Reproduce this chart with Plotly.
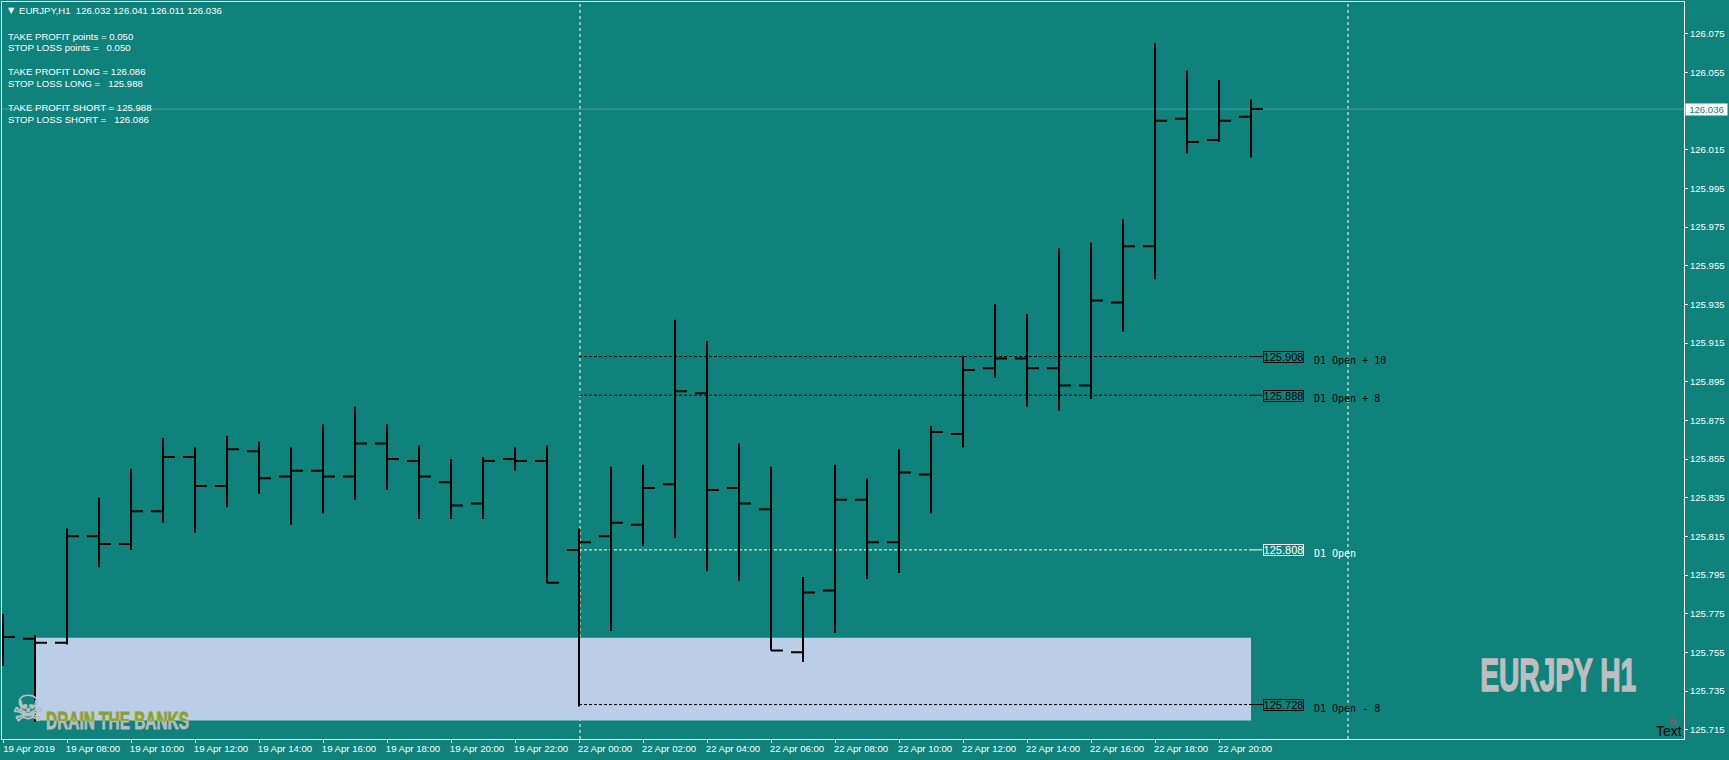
import plotly.graph_objects as go

# ---------- data ----------
bar_index = list(range(40))
opens = [125.765,125.762,125.760,125.815,125.811,125.828,125.856,125.841,125.859,125.846,
         125.849,125.846,125.863,125.854,125.843,125.832,125.855,125.854,125.808,125.815,
         125.821,125.842,125.889,125.840,125.829,125.755,125.787,125.834,125.812,125.847,
         125.868,125.902,125.907,125.902,125.893,125.936,125.965,126.031,126.020,126.032]
highs = [125.775,125.764,125.819,125.835,125.850,125.866,125.861,125.867,125.864,125.861,
         125.873,125.882,125.873,125.862,125.855,125.856,125.861,125.862,125.819,125.851,
         125.852,125.927,125.916,125.863,125.851,125.794,125.852,125.845,125.860,125.872,
         125.908,125.935,125.930,125.964,125.967,125.979,126.070,126.056,126.051,126.041]
lows = [125.748,125.719,125.759,125.799,125.808,125.822,125.817,125.830,125.837,125.821,
        125.827,125.834,125.839,125.824,125.824,125.824,125.849,125.791,125.727,125.766,
        125.810,125.814,125.797,125.792,125.756,125.750,125.765,125.793,125.796,125.827,
        125.861,125.897,125.882,125.880,125.886,125.921,125.948,126.013,126.019,126.011]
closes = [125.763,125.760,125.815,125.811,125.828,125.856,125.841,125.860,125.845,125.849,
          125.846,125.863,125.855,125.846,125.831,125.854,125.854,125.791,125.812,125.822,
          125.840,125.890,125.839,125.832,125.756,125.786,125.834,125.812,125.848,125.869,
          125.901,125.907,125.902,125.893,125.937,125.965,126.030,126.019,126.030,126.036]

x_tick_index = list(range(0, 40, 2))
x_tick_labels = ["19 Apr 2019","19 Apr 08:00","19 Apr 10:00","19 Apr 12:00","19 Apr 14:00",
                 "19 Apr 16:00","19 Apr 18:00","19 Apr 20:00","19 Apr 22:00","22 Apr 00:00",
                 "22 Apr 02:00","22 Apr 04:00","22 Apr 06:00","22 Apr 08:00","22 Apr 10:00",
                 "22 Apr 12:00","22 Apr 14:00","22 Apr 16:00","22 Apr 18:00","22 Apr 20:00"]
y_ticks = [125.715,125.735,125.755,125.775,125.795,125.815,125.835,125.855,125.875,125.895,
           125.915,125.935,125.955,125.975,125.995,126.015,126.055,126.075]

levels = [125.908, 125.888, 125.808, 125.728]
level_names = ["D1 Open + 10", "D1 Open + 8", "D1 Open", "D1 Open - 8"]
level_colors = ["#000000", "#000000", "#FFFFFF", "#000000"]
current_price = 126.036
zone_low, zone_high = 125.7197, 125.7626
session_index = [18, 42]
header = "EURJPY,H1\u00a0\u00a0126.032 126.041 126.011 126.036"
info_lines = [("TAKE PROFIT points = 0.050", 36), ("STOP LOSS points =\u00a0\u00a0\u00a00.050", 47.7),
              ("TAKE PROFIT LONG = 126.086", 71.7), ("STOP LOSS LONG =\u00a0\u00a0\u00a0125.988", 83.7),
              ("TAKE PROFIT SHORT = 125.988", 107.7), ("STOP LOSS SHORT =\u00a0\u00a0\u00a0126.086", 119.7)]
watermark = "EURJPY H1"
logo = "DRAIN THE BANKS"
skull = "\u2620"

# ---------- layout constants ----------
W, H = 1729, 760
L, R, T, B = 2, 1684, 2, 739
TEAL = "#0F827C"
ZONE = "#BBCEE7"
UI_FONT = "Liberation Sans"
UI_SIZE = 9.6
y_top = 126.075 + (33.7 - T) / 1933.3
y_bot = 126.075 - (B - 33.7) / 1933.3
x_left = (L - 3) / 32
x_right = (R - 3) / 32
BOX_X = 39.36


def xp(px):
    return (px - L) / (R - L)


def yp(py):
    return (B - py) / (B - T)


fig = go.Figure()

fig.add_trace(go.Ohlc(
    x=bar_index, open=opens, high=highs, low=lows, close=closes,
    increasing=dict(line=dict(color="#000000", width=2)),
    decreasing=dict(line=dict(color="#000000", width=2)),
    tickwidth=0.375, showlegend=False, hoverinfo="skip"))

shapes = []
for s in session_index:
    shapes.append(dict(type="line", layer="below", xref="x", yref="paper", x0=s + 0.03, x1=s + 0.03,
                       y0=0, y1=1, line=dict(color="#FFFFFF", width=1, dash="3px,3px")))
shapes.append(dict(type="rect", layer="below", xref="x", yref="y", x0=1, x1=39,
                   y0=zone_low, y1=zone_high, fillcolor=ZONE, line=dict(width=0)))
shapes.append(dict(type="line", layer="below", xref="paper", yref="y", x0=0, x1=1,
                   y0=current_price, y1=current_price, line=dict(color="#4A9F9B", width=1)))
annots = []
for lev, name, col in zip(levels, level_names, level_colors):
    shapes.append(dict(type="line", layer="below", xref="x", yref="y", x0=18, x1=39, y0=lev, y1=lev,
                       line=dict(color=col, width=1, dash="3px,2px")))
    shapes.append(dict(type="line", layer="below", xref="x", yref="y", x0=39, x1=BOX_X, y0=lev, y1=lev,
                       line=dict(color=col, width=1)))
    annots.append(dict(xref="x", yref="y", x=BOX_X, y=lev, yshift=-0.5, xanchor="left", yanchor="middle",
                       text=f"{lev:.3f}", showarrow=False, width=39, height=10, borderpad=0,
                       bordercolor=col, borderwidth=1, align="center",
                       font=dict(family=UI_FONT, size=11, color=col)))
    annots.append(dict(xref="x", yref="y", x=BOX_X, y=lev, xshift=50, yshift=-3.5, xanchor="left",
                       yanchor="middle", text=name, showarrow=False, borderpad=0,
                       font=dict(family="DejaVu Sans Mono", size=10, color=col)))

# top-left info
annots.append(dict(xref="paper", yref="paper", x=xp(6.5), y=yp(10.7), xanchor="left", yanchor="middle",
                   text="\u25bc", showarrow=False, borderpad=0, font=dict(family="DejaVu Sans", size=8, color="#FFFFFF")))
annots.append(dict(xref="paper", yref="paper", x=xp(18), y=yp(10.7), xanchor="left", yanchor="middle",
                   text=header, showarrow=False, borderpad=0, font=dict(family=UI_FONT, size=UI_SIZE, color="#FFFFFF")))
for txt, py in info_lines:
    annots.append(dict(xref="paper", yref="paper", x=xp(7), y=yp(py), xanchor="left", yanchor="middle",
                       text=txt, showarrow=False, borderpad=0,
                       font=dict(family=UI_FONT, size=UI_SIZE, color="#FFFFFF")))

# current price tag
annots.append(dict(xref="paper", yref="y", x=xp(1685), y=current_price, xanchor="left", yanchor="middle",
                   text=f"{current_price:.3f}", showarrow=False, width=41, height=11, borderpad=0,
                   bgcolor="#FFFFFF", align="center", font=dict(family=UI_FONT, size=UI_SIZE, color=TEAL)))

# watermark
annots.append(dict(xref="paper", yref="paper", x=xp(1558), y=yp(674.5), xanchor="center", yanchor="middle",
                   text=watermark, showarrow=False, borderpad=0,
                   font=dict(family="Liberation Sans", size=47, weight=700, color="#BEBEBE")))
annots.append(dict(xref="paper", yref="paper", x=xp(28), y=yp(708), xanchor="center", yanchor="middle",
                   text=skull, showarrow=False, borderpad=0,
                   font=dict(family="DejaVu Sans", size=36, color="#B9C0BE")))
annots.append(dict(xref="paper", yref="paper", x=xp(1683), y=yp(731), xanchor="right", yanchor="middle",
                   text="Text", showarrow=False, borderpad=0,
                   font=dict(family=UI_FONT, size=14, color="#000000")))
annots.append(dict(xref="paper", yref="paper", x=xp(1672.7), y=yp(721), xanchor="center", yanchor="middle",
                   text=skull, showarrow=False, borderpad=0,
                   font=dict(family="DejaVu Sans", size=10, color="#5A6A68")))

# "DRAIN THE BANKS": two-tone text clipped by two small overlay sub-plots
split = 720.7
dom_x = [xp(40), xp(195)]
for axis_no, dom_y, yv, col, dx in [(2, [0, yp(split)], 0.863, "#B9B9B9", 0),
                                    (3, [yp(split), yp(700)], -0.12, "#C6E000", -0.6),
                                    (4, [yp(split), yp(700)], -0.12, "#8C9B4C", 0)]:
    fig.add_trace(go.Scatter(x=[(117.5 - 40 + dx) / 155], y=[yv], mode="text", text=[logo],
                             textposition="middle center", showlegend=False, hoverinfo="skip", cliponaxis=True,
                             textfont=dict(family="Liberation Sans", size=24, weight=700, color=col),
                             xaxis=f"x{axis_no}", yaxis=f"y{axis_no}"))
    fig.update_layout({f"xaxis{axis_no}": dict(domain=dom_x, range=[0, 1], visible=False, fixedrange=True),
                       f"yaxis{axis_no}": dict(domain=dom_y, range=[0, 1], visible=False, fixedrange=True)})

fig.update_layout(
    width=W, height=H, autosize=False,
    margin=dict(l=L, r=W - R, t=T, b=H - B, pad=0),
    paper_bgcolor=TEAL, plot_bgcolor="rgba(0,0,0,0)", showlegend=False,
    shapes=shapes, annotations=annots,
    font=dict(family=UI_FONT, color="#FFFFFF"),
    xaxis=dict(range=[x_left, x_right], rangeslider=dict(visible=False), tickmode="array",
               tickvals=x_tick_index, ticktext=x_tick_labels, tickangle=0, ticks="outside", ticklen=3,
               tickcolor="#FFFFFF", tickwidth=1, ticklabelshift=26, ticklabelstandoff=-3,
               tickfont=dict(family=UI_FONT, size=UI_SIZE, color="#FFFFFF"),
               showgrid=False, zeroline=False, showline=True, linecolor="#FFFFFF", linewidth=1, mirror=True),
    yaxis=dict(range=[y_bot, y_top], side="right", tickmode="array", tickvals=y_ticks,
               ticktext=[f"{v:.3f}" for v in y_ticks], ticks="outside", ticklen=3, tickcolor="#FFFFFF",
               tickwidth=1, tickfont=dict(family=UI_FONT, size=UI_SIZE, color="#FFFFFF"),
               showgrid=False, zeroline=False, showline=True, linecolor="#FFFFFF", linewidth=1, mirror=True),
)

# page: no body margin; the heavy condensed lettering is squeezed to the reference's width
post = """
document.documentElement.style.overflow='hidden';
document.body.style.margin='0';
document.body.style.overflow='hidden';
var gd=document.getElementById('{plot_id}');
function squeeze(){
  document.querySelectorAll('svg text').forEach(function(t){
    var s=t.textContent;
    if(s==='%s'){t.setAttribute('textLength','156');t.setAttribute('lengthAdjust','spacingAndGlyphs');
      t.style.stroke='#BEBEBE';t.style.strokeWidth='1.6px';}
    if(s==='%s'){t.setAttribute('textLength','143');t.setAttribute('lengthAdjust','spacingAndGlyphs');
      t.style.stroke=t.style.fill;t.style.strokeWidth='0.8px';}
    if(s==='%s'){t.style.stroke=t.style.fill;t.style.strokeWidth='0.8px';}
  });
}
squeeze();
if(gd&&gd.on){gd.on('plotly_afterplot',squeeze);}
""" % (watermark, logo, skull)
fig.write_html("out.html", post_script=post, config=dict(displayModeBar=False))
